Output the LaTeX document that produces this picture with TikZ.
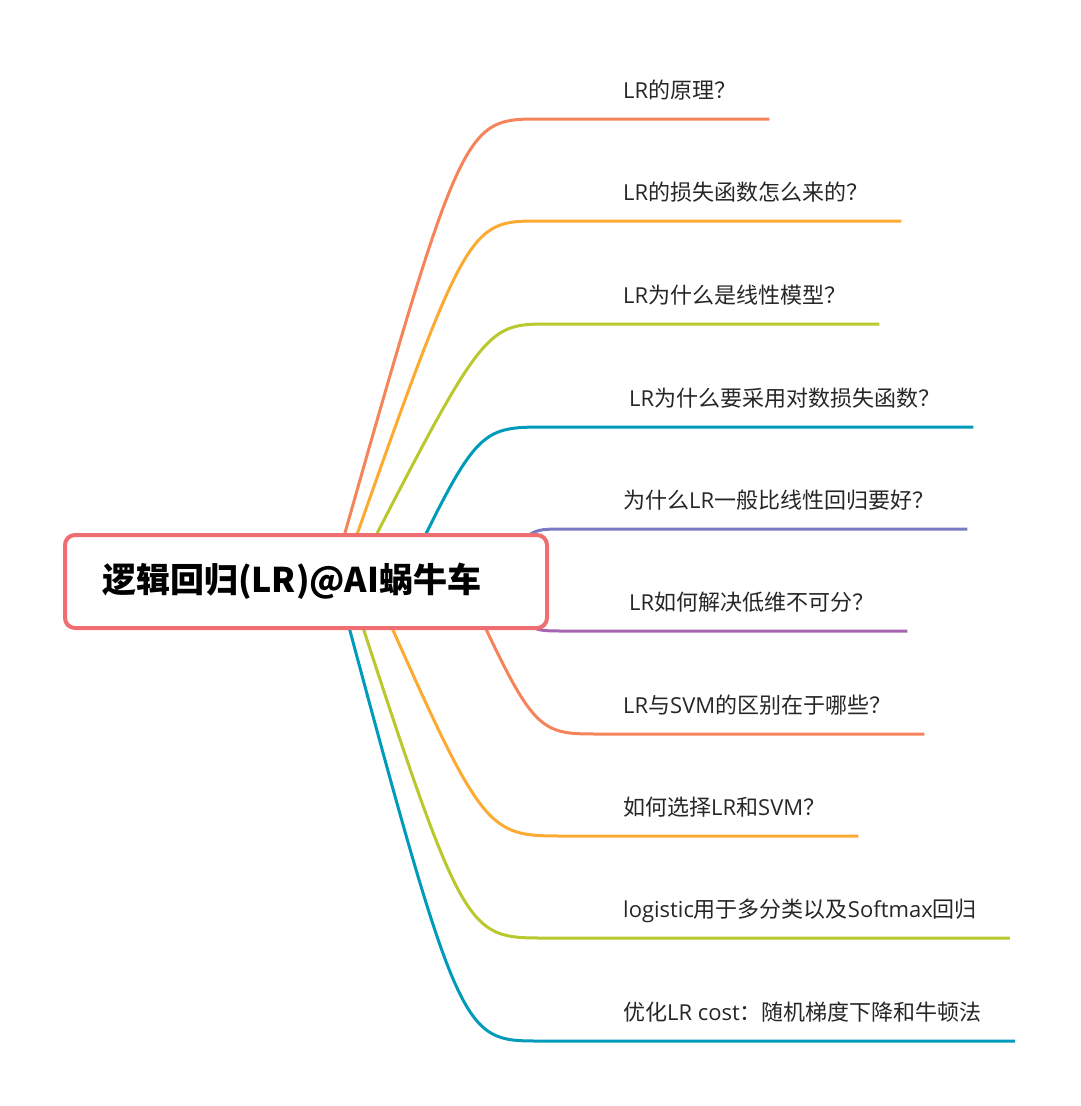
\documentclass[tikz,border=0pt]{standalone}
\usepackage{fontspec}
\setmainfont{Noto Sans CJK SC}
\newfontfamily\latin{Open Sans}
\usetikzlibrary{calc}

\definecolor{rootred}{HTML}{EF6E72}
\definecolor{coral}{HTML}{F6845B}
\definecolor{amber}{HTML}{FDAA33}
\definecolor{lime}{HTML}{B9C82C}
\definecolor{teal}{HTML}{009BBB}
\definecolor{violet}{HTML}{7A79C4}
\definecolor{plum}{HTML}{A464B0}

\newcommand\lt[1]{{\latin #1}}

\begin{document}
\begin{tikzpicture}[
  x=1pt, y=-1pt,
  root/.style={
    draw=rootred, line width=4pt, rounded corners=10pt,
    minimum height=93pt, inner xsep=37pt, inner ysep=0pt,
    text width=408pt, align=left, fill=white,
    font=\fontsize{34}{40}\selectfont\bfseries,
  },
  item/.style={
    anchor=south west, inner sep=0pt, text depth=20pt,
    font=\fontsize{22}{26}\selectfont, text=black!85,
  },
  branch/.style={line width=3pt, draw=#1},
]
\useasboundingbox (0,0) rectangle (1081,1106);

% topics
\node[item] (q1) at (623,119) {\lt{LR}的原理？};
\node[item] (q2) at (623,221) {\lt{LR}的损失函数怎么来的？};
\node[item] (q3) at (623,324) {\lt{LR}为什么是线性模型？};
\node[item] (q4) at (629,427) {\lt{LR}为什么要采用对数损失函数？};
\node[item] (q5) at (623,529) {为什么\lt{LR}一般比线性回归要好？};
\node[item] (q6) at (629,631) {\lt{LR}如何解决低维不可分？};
\node[item] (q7) at (623,734) {\lt{LR}与\lt{SVM}的区别在于哪些？};
\node[item] (q8) at (623,836) {如何选择\lt{LR}和\lt{SVM}？};
\node[item] (q9) at (623,938) {\lt{logistic}用于多分类以及\lt{Softmax}回归};
\node[item] (q10) at (623,1041) {优化\lt{LR cost}：随机梯度下降和牛顿法};

% start points, hidden under the root box
\coordinate (r1) at (326,600);
\coordinate (r2) at (334,600);
\coordinate (r3) at (343,600);
\coordinate (r4) at (394,600);
\coordinate (r5) at (505,575);
\coordinate (r6) at (505,587);
\coordinate (r7) at (454,560);
\coordinate (r8) at (362,560);
\coordinate (r9) at (341,560);
\coordinate (r10) at (331,560);

\draw[branch=coral] (r1) .. controls +(136,-481) and +(-78,0) .. ($(q1.south west)+(-83,0)$) -- ($(q1.south east)+(33,0)$);
\draw[branch=amber] (r2) .. controls +(133,-379) and +(-73,0) .. ($(q2.south west)+(-83,0)$) -- ($(q2.south east)+(33,0)$);
\draw[branch=lime] (r3) .. controls +(141,-276) and +(-66,0) .. ($(q3.south west)+(-73,0)$) -- ($(q3.south east)+(33,0)$);
\draw[branch=teal] (r4) .. controls +(83,-173) and +(-71,0) .. ($(q4.south west)+(-81,0)$) -- ($(q4.south east)+(33,0)$);
\draw[branch=violet] (r5) .. controls +(23,-46) and +(-37,0) .. ($(q5.south west)+(-58,0)$) -- ($(q5.south east)+(33,0)$);
\draw[branch=plum] (r6) .. controls +(23,44) and +(-37,0) .. ($(q6.south west)+(-64,0)$) -- ($(q6.south east)+(33,0)$);
\draw[branch=coral] (r7) .. controls +(80,174) and +(-66,0) .. ($(q7.south west)+(-23,0)$) -- ($(q7.south east)+(33,0)$);
\draw[branch=amber] (r8) .. controls +(122,276) and +(-82,0) .. ($(q8.south west)+(-58,0)$) -- ($(q8.south east)+(33,0)$);
\draw[branch=lime] (r9) .. controls +(123,378) and +(-81,0) .. ($(q9.south west)+(-78,0)$) -- ($(q9.south east)+(33,0)$);
\draw[branch=teal] (r10) .. controls +(129,481) and +(-80,0) .. ($(q10.south west)+(-83,0)$) -- ($(q10.south east)+(33,0)$);

\node[root] (root) at (306,581.5) {逻辑回归(LR)@AI蜗牛车};

\end{tikzpicture}
\end{document}
